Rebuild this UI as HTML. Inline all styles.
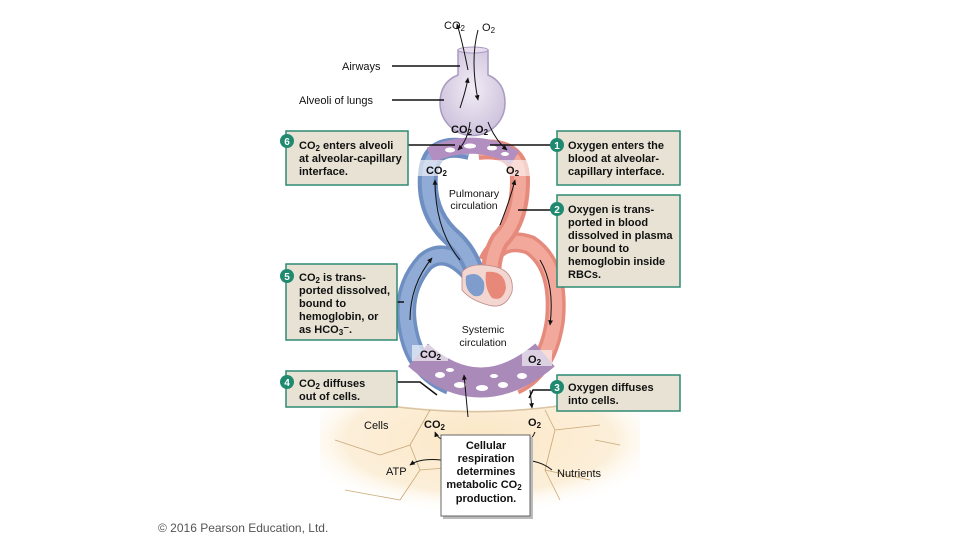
<!DOCTYPE html>
<html><head><meta charset="utf-8"><style>
html,body{margin:0;padding:0;background:#fff;}
svg{display:block}
text{font-family:"Liberation Sans",Arial,sans-serif;}
.b{font-weight:bold;font-size:11px;fill:#111}
.n{font-size:10.5px;fill:#111}
.t{font-size:11px;fill:#111}
</style></head><body>
<svg width="960" height="540" viewBox="0 0 960 540" xmlns="http://www.w3.org/2000/svg">
<defs>
<marker id="ar" viewBox="0 0 10 10" refX="8" refY="5" markerWidth="6" markerHeight="6" orient="auto"><path d="M0,1 L9,5 L0,9 z" fill="#111"/></marker>
<radialGradient id="cg" cx="50%" cy="40%" r="60%"><stop offset="0" stop-color="#fbe7c6"/><stop offset="0.7" stop-color="#fcefd9"/><stop offset="1" stop-color="#fff" stop-opacity="0"/></radialGradient>
<radialGradient id="al" cx="50%" cy="45%" r="55%"><stop offset="0" stop-color="#f2ecf4"/><stop offset="1" stop-color="#cfc4de"/></radialGradient>
</defs>

<path d="M320,392 Q480,430 640,390 L640,515 Q480,505 320,515 Z" fill="url(#cg)"/>
<path d="M330,395 Q480,430 630,392" fill="none" stroke="#d9c4a4" stroke-width="1.5"/>
<g stroke="#c9a878" stroke-width="0.8" fill="none">
<path d="M430,410 L410,445 L380,455 M410,445 L420,470 L400,500 M420,470 L445,468"/>
<path d="M335,440 L380,455 M345,490 L400,500"/>
<path d="M545,410 L555,430 L545,470 L560,500 M555,430 L600,425 M545,470 L590,480"/>
<path d="M595,440 L620,445"/>
</g>

<path d="M470,272 Q445,245 425,262 Q400,290 408,330 Q415,370 450,385" fill="none" stroke="#6f8fc2" stroke-width="20"/>
<path d="M470,272 Q445,245 425,262 Q400,290 408,330 Q415,370 450,385" fill="none" stroke="#8fabd6" stroke-width="13"/>
<path d="M488,262 Q500,235 530,245 Q560,265 555,320 Q548,370 515,385" fill="none" stroke="#e58a7c" stroke-width="20"/>
<path d="M488,262 Q500,235 530,245 Q560,265 555,320 Q548,370 515,385" fill="none" stroke="#f2a89a" stroke-width="13"/>
<path d="M418,355 Q480,410 545,355" fill="none" stroke="#a98ab8" stroke-width="30"/>
<g fill="#fff"><ellipse cx="440" cy="375" rx="5" ry="3"/><ellipse cx="460" cy="385" rx="6" ry="3"/><ellipse cx="482" cy="388" rx="6" ry="3"/><ellipse cx="503" cy="385" rx="5" ry="3"/><ellipse cx="522" cy="376" rx="5" ry="3"/><ellipse cx="450" cy="370" rx="4" ry="2"/><ellipse cx="494" cy="376" rx="4" ry="2"/></g>

<path d="M470,150 Q430,140 428,175 Q425,215 455,240 Q475,260 478,290" fill="none" stroke="#6f8fc2" stroke-width="20"/>
<path d="M470,150 Q430,140 428,175 Q425,215 455,240 Q475,260 478,290" fill="none" stroke="#8fabd6" stroke-width="12"/>
<path d="M478,150 Q520,145 520,180 Q520,220 500,240 Q488,260 492,290" fill="none" stroke="#e58a7c" stroke-width="20"/>
<path d="M478,150 Q520,145 520,180 Q520,220 500,240 Q488,260 492,290" fill="none" stroke="#f2a89a" stroke-width="12"/>
<path d="M430,155 Q475,135 515,158" fill="none" stroke="#b28fc0" stroke-width="16"/>
<g fill="#fff"><ellipse cx="450" cy="150" rx="5" ry="2.5"/><ellipse cx="470" cy="146" rx="6" ry="2.5"/><ellipse cx="492" cy="148" rx="5" ry="2.5"/><ellipse cx="505" cy="154" rx="4" ry="2"/></g>

<path d="M462,272 Q470,262 492,266 Q515,270 512,292 Q505,310 488,305 Q470,300 462,290 Z" fill="#f3d6cf" stroke="#b88" stroke-width="0.8"/>
<path d="M466,276 Q478,270 484,282 Q486,298 474,296 Q464,290 466,276Z" fill="#7e9dcc"/>
<path d="M486,272 Q505,270 506,288 Q503,302 492,298 Q484,288 486,272Z" fill="#e88878"/>

<path d="M458,50 L458,75 Q440,82 440,103 A32,32 0 0 0 505,103 Q505,82 488,75 L488,50 Z" fill="url(#al)" stroke="#a99bc0" stroke-width="1.5"/>
<ellipse cx="473" cy="50" rx="15" ry="3" fill="#e6dcee" stroke="#a99bc0"/>

<rect x="417" y="160" width="36" height="16" fill="#fff" opacity="0.6"/>
<rect x="495" y="160" width="36" height="16" fill="#fff" opacity="0.6"/>
<rect x="412" y="345" width="36" height="16" fill="#fff" opacity="0.6"/>
<rect x="522" y="350" width="30" height="16" fill="#fff" opacity="0.6"/>
<text x="426" y="174" class="b">CO<tspan font-size="8" dy="2">2</tspan></text>
<text x="506" y="174" class="b">O<tspan font-size="8" dy="2">2</tspan></text>
<text x="420" y="358" class="b">CO<tspan font-size="8" dy="2">2</tspan></text>
<text x="528" y="363" class="b">O<tspan font-size="8" dy="2">2</tspan></text>
<text x="451" y="133" class="b">CO<tspan font-size="8" dy="2">2</tspan><tspan dy="-2"> O</tspan><tspan font-size="8" dy="2">2</tspan></text>
<text x="444" y="29" class="t">CO<tspan font-size="8" dy="2">2</tspan></text>
<text x="482" y="31" class="t">O<tspan font-size="8" dy="2">2</tspan></text>
<text x="474" y="197" class="n" text-anchor="middle">Pulmonary</text>
<text x="474" y="209" class="n" text-anchor="middle">circulation</text>
<text x="483" y="333" class="n" text-anchor="middle">Systemic</text>
<text x="483" y="346" class="n" text-anchor="middle">circulation</text>
<text x="424" y="428" class="b">CO<tspan font-size="8" dy="2">2</tspan></text>
<text x="528" y="426" class="b">O<tspan font-size="8" dy="2">2</tspan></text>

<g fill="none" stroke="#111" stroke-width="1" marker-end="url(#ar)">
<path d="M468,70 Q462,40 457,24"/>
<path d="M478,30 Q470,60 478,100"/>
<path d="M460,108 Q466,90 468,78"/>
<path d="M470,122 Q468,140 458,150"/>
<path d="M488,122 Q495,140 507,150"/>
<path d="M460,260 Q435,230 435,180"/>
<path d="M500,225 Q510,200 515,180"/>
<path d="M410,320 Q410,285 432,258"/>
<path d="M540,260 Q555,285 550,325"/>
<path d="M468,417 L464,375" />
<path d="M530,390 L532,408"/>
<path d="M470,444 Q440,445 435,432"/>
<path d="M535,432 Q530,445 512,446"/>
<path d="M441,460 Q420,458 410,465"/>
<path d="M552,470 Q540,460 520,460"/>
</g>

<rect x="443" y="437" width="90" height="82" fill="#bbb"/>
<rect x="441" y="435" width="89" height="81" fill="#fff" stroke="#666" stroke-width="1"/>
<text text-anchor="middle" class="b"><tspan x="486" y="449">Cellular</tspan><tspan x="486" y="462">respiration</tspan><tspan x="486" y="475">determines</tspan><tspan x="484" y="488">metabolic CO<tspan font-size="8" dy="2">2</tspan></tspan><tspan x="486" y="502">production.</tspan></text>
<text x="364" y="429" class="t">Cells</text>
<text x="386" y="475" class="t">ATP</text>
<text x="557" y="477" class="t">Nutrients</text>

<text x="342" y="70" class="t">Airways</text>
<line x1="392" y1="66" x2="460" y2="66" stroke="#111" stroke-width="1.5"/>
<text x="299" y="104" class="t">Alveoli of lungs</text>
<line x1="392" y1="100" x2="444" y2="100" stroke="#111" stroke-width="1.5"/>

<g stroke="#111" stroke-width="1.5" fill="none">
<path d="M408,145 L455,145"/>
<path d="M490,145 L557,145"/>
<path d="M518,210 L557,210"/>
<path d="M397,302 L404,302"/>
<path d="M397,382 L420,382 L437,395"/>
<path d="M529,398 L533,390 L557,390"/>
</g>

<g fill="#e7e2d4" stroke="#2f8a73" stroke-width="1.5">
<rect x="286" y="131" width="122" height="54"/>
<rect x="557" y="131" width="123" height="54"/>
<rect x="557" y="195" width="123" height="92"/>
<rect x="286" y="264" width="111" height="76"/>
<rect x="286" y="371" width="111" height="36"/>
<rect x="557" y="375" width="123" height="36"/>
</g>
<g fill="#1f8a70">
<circle cx="287" cy="141" r="7"/><circle cx="557" cy="145" r="7"/><circle cx="557" cy="209" r="7"/>
<circle cx="287" cy="276" r="7"/><circle cx="287" cy="382" r="7"/><circle cx="557" cy="387" r="7"/>
</g>
<g fill="#fff" font-size="10" font-weight="bold" text-anchor="middle">
<text x="287" y="145">6</text><text x="557" y="149">1</text><text x="557" y="213">2</text>
<text x="287" y="280">5</text><text x="287" y="386">4</text><text x="557" y="391">3</text>
</g>
<g class="b">
<text class="b"><tspan x="299" y="149">CO<tspan font-size="8" dy="2">2</tspan><tspan dy="-2"> enters alveoli</tspan></tspan><tspan x="299" y="162">at alveolar-capillary</tspan><tspan x="299" y="175">interface.</tspan></text>
<text class="b"><tspan x="568" y="149">Oxygen enters the</tspan><tspan x="568" y="162">blood at alveolar-</tspan><tspan x="568" y="175">capillary interface.</tspan></text>
<text class="b"><tspan x="568" y="213">Oxygen is trans-</tspan><tspan x="568" y="226">ported in blood</tspan><tspan x="568" y="239">dissolved in plasma</tspan><tspan x="568" y="252">or bound to</tspan><tspan x="568" y="265">hemoglobin inside</tspan><tspan x="568" y="278">RBCs.</tspan></text>
<text class="b"><tspan x="299" y="281">CO<tspan font-size="8" dy="2">2</tspan><tspan dy="-2"> is trans-</tspan></tspan><tspan x="299" y="294">ported dissolved,</tspan><tspan x="299" y="307">bound to</tspan><tspan x="299" y="320">hemoglobin, or</tspan><tspan x="299" y="333">as HCO<tspan font-size="8" dy="2">3</tspan><tspan dy="-2">⁻.</tspan></tspan></text>
<text class="b"><tspan x="299" y="387">CO<tspan font-size="8" dy="2">2</tspan><tspan dy="-2"> diffuses</tspan></tspan><tspan x="299" y="400">out of cells.</tspan></text>
<text class="b"><tspan x="568" y="391">Oxygen diffuses</tspan><tspan x="568" y="404">into cells.</tspan></text>
</g>

<text x="158" y="532" font-size="12" fill="#555">© 2016 Pearson Education, Ltd.</text>
</svg>
</body></html>
